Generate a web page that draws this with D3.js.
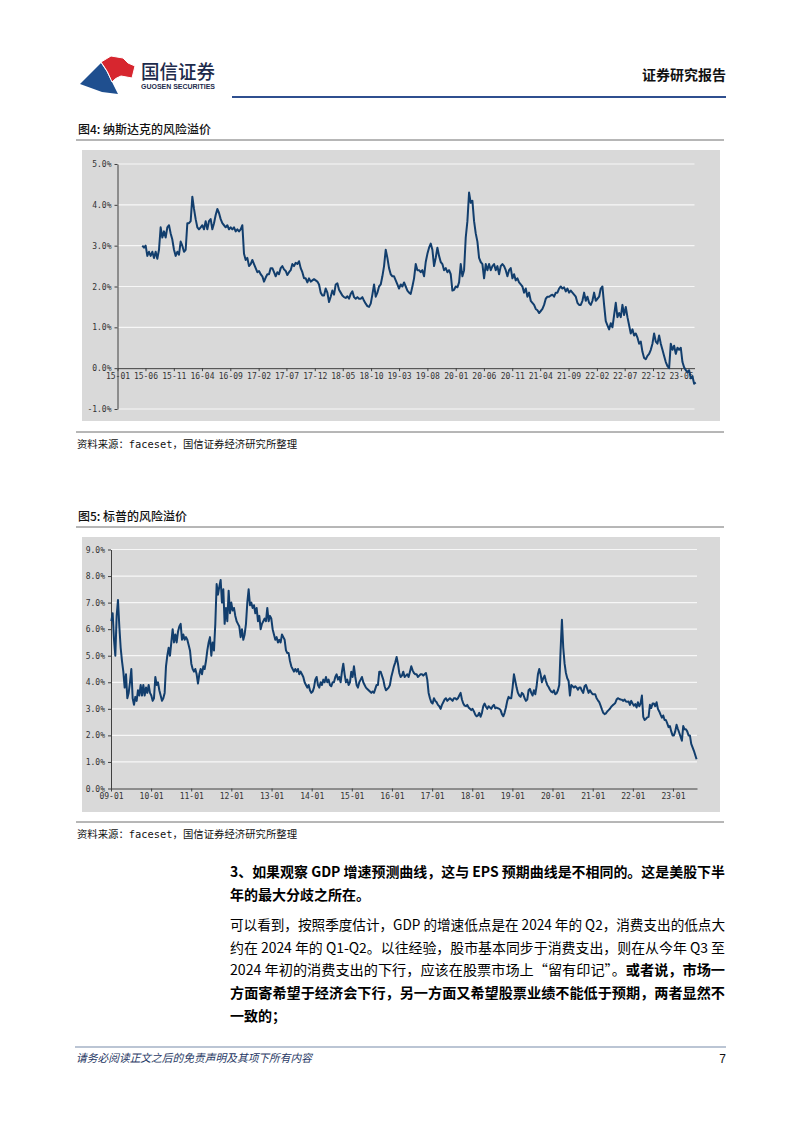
<!DOCTYPE html>
<html><head><meta charset="utf-8">
<script src="https://cdn.jsdelivr.net/npm/d3@7"></script>
<style>html,body{margin:0;padding:0;background:#fff}svg{display:block}</style>
</head><body>
<svg id="page" width="802" height="1133"></svg>
<script>
// ---------- DATA ----------
// 图4 纳斯达克的风险溢价 (%), one reading every 9 days from 2015-05-15
const nasdaqStart = "2015-05-15";
const nasdaqStepDays = 9;
const nasdaqValues = [
3.00,2.95,3.00,2.75,2.85,2.75,2.85,2.70,2.85,2.68,
2.90,3.45,3.20,3.35,3.20,3.45,3.50,3.30,3.15,2.90,
2.75,2.85,2.78,3.10,3.00,2.85,2.90,3.55,3.55,3.60,
4.20,3.90,3.65,3.45,3.40,3.45,3.50,3.40,3.60,3.40,
3.60,3.65,3.40,3.55,3.75,3.90,3.80,3.65,3.55,3.50,
3.45,3.50,3.40,3.45,3.40,3.45,3.35,3.40,3.35,3.40,
3.50,2.80,2.65,2.70,2.50,2.55,2.65,2.55,2.45,2.35,
2.38,2.30,2.25,2.12,2.22,2.30,2.30,2.45,2.45,2.35,
2.25,2.35,2.30,2.45,2.50,2.42,2.38,2.28,2.35,2.40,
2.55,2.50,2.58,2.55,2.62,2.45,2.35,2.20,2.20,2.10,
2.20,2.12,2.15,2.18,2.15,2.12,2.05,1.85,1.78,1.78,
1.95,1.85,1.62,1.75,1.90,1.80,2.05,2.08,1.92,1.85,
1.78,1.74,1.72,1.76,1.70,1.82,1.88,1.74,1.70,1.74,
1.70,1.70,1.74,1.65,1.58,1.52,1.50,1.58,1.80,2.05,
1.75,1.85,2.00,
2.05,2.25,2.50,2.90,2.70,2.45,2.30,2.25,2.25,2.15,
2.05,1.95,2.05,2.00,2.10,2.00,1.90,1.85,1.82,2.00,
2.20,2.55,2.40,2.40,2.35,2.40,2.25,2.60,2.80,2.95,
3.05,2.90,2.50,2.70,2.95,2.75,2.60,2.55,2.40,2.45,
2.35,2.40,2.30,1.90,1.92,2.00,1.98,2.10,2.55,2.25,
2.40,3.20,3.60,4.30,4.05,4.10,3.60,3.30,3.10,2.70,
2.60,2.55,2.20,2.55,2.40,2.55,2.40,2.50,2.55,2.40,
2.50,2.30,2.50,2.55,2.50,2.40,2.25,2.40,2.45,2.20,
2.30,2.15,2.20,2.10,2.05,2.00,1.85,1.95,1.75,1.85,
1.65,1.60,1.55,1.45,1.42,1.35,1.40,1.45,1.55,1.70,
1.75,1.75,1.78,1.80,1.75,1.85,1.85,1.95,2.00,1.95,
1.98,1.88,1.95,1.85,1.90,1.85,1.80,1.75,1.60,1.55,
1.55,1.65,1.85,1.65,1.75,1.60,1.55,1.65,1.85,1.65,
1.70,1.75,1.95,2.00,1.55,1.15,1.05,0.95,1.10,1.00,
1.30,1.60,1.25,1.35,1.25,1.55,1.30,1.50,1.25,1.05,
0.85,0.95,0.80,0.85,0.75,0.60,0.65,0.40,0.25,0.22,
0.30,0.35,0.45,0.60,0.85,0.65,0.60,0.80,0.60,0.45,
0.30,0.15,0.05,0.00,0.60,0.45,0.55,0.35,0.50,0.45,
0.50,0.15,0.02,-0.05,-0.10,-0.05,-0.25,-0.20,-0.38,-0.35
];
const nasdaqXTicks = ["15-01","15-06","15-11","16-04","16-09","17-02","17-07","17-12","18-05","18-10",
  "19-03","19-08","20-01","20-06","20-11","21-04","21-09","22-02","22-07","22-12","23-05"];
const nasdaqYTicks = [-1,0,1,2,3,4,5];
const nasdaqXEnd = "2023-07-13";

// 图5 标普的风险溢价 (%), one reading every 12.13 days from 2009-01-04
const spStart = "2009-01-04";
const spStepDays = 12.13;
const spValues = [
6.3,6.6,5.6,5.0,6.5,7.1,6.1,5.3,4.8,4.4,
3.8,4.3,3.4,3.6,4.0,4.5,3.4,3.15,3.45,3.3,
3.7,3.5,3.9,3.5,3.9,3.5,3.8,3.6,3.9,3.6,
3.5,3.3,3.4,4.2,3.9,4.0,3.7,3.5,3.3,3.4,
3.6,4.6,5.0,5.3,5.0,5.5,6.0,5.5,5.8,5.5,
5.9,6.1,6.2,5.6,5.8,5.6,5.7,5.6,5.4,5.2,
4.7,4.5,4.4,4.5,4.3,3.95,4.3,4.5,4.3,4.6,
4.5,4.8,5.2,5.5,5.7,5.0,5.5,5.2,6.2,7.7,
7.3,7.6,7.85,7.0,7.5,6.2,6.8,6.3,7.45,6.6,
7.0,6.7,6.8,6.5,6.3,6.2,6.1,5.7,6.0,5.6,
5.8,6.2,7.0,7.5,6.9,7.0,6.8,6.9,6.6,6.8,
6.3,6.5,6.0,6.2,6.3,6.4,6.3,6.8,6.3,6.5,
6.4,6.0,5.8,5.6,5.7,5.5,5.6,5.5,5.8,5.7,
5.6,5.2,5.1,5.1,4.8,4.6,4.5,4.4,4.5,4.4,
4.5,4.3,4.4,4.3,4.2,4.0,3.9,3.8,3.9,3.7,
3.6,3.65,3.8,4.1,4.2,3.9,3.8,4.0,3.9,4.1,
4.0,4.2,4.0,4.1,3.9,3.85,4.0,4.0,4.2,4.3,
4.1,4.2,4.0,4.4,4.7,4.3,4.0,4.1,3.9,4.0,
4.4,4.2,4.6,4.2,3.9,3.8,4.0,4.1,4.2,4.0,
3.9,3.8,3.75,3.7,3.65,3.6,3.65,3.6,3.75,3.9,
3.9,4.4,
4.4,4.25,4.1,3.85,3.7,3.75,3.8,3.9,4.2,4.4,
4.6,4.75,4.95,4.7,4.35,4.2,4.25,4.4,4.2,4.25,
4.3,4.2,4.4,4.6,4.45,4.35,4.3,4.3,4.2,4.25,
4.3,4.3,4.25,4.3,4.35,4.1,3.6,3.4,3.25,3.2,
3.4,3.3,3.25,3.15,3.1,3.0,3.15,3.25,3.35,3.4,
3.3,3.35,3.4,3.35,3.3,3.4,3.4,3.35,3.4,3.5,
3.6,3.35,3.2,3.12,3.1,3.15,3.05,3.0,2.95,3.0,
2.9,2.78,2.72,2.75,2.85,2.7,2.85,3.1,3.2,3.08,
3.0,3.1,3.05,3.0,3.1,3.15,3.02,3.05,3.02,3.0,
2.95,2.8,2.72,2.85,3.05,3.3,3.45,3.4,3.4,3.8,
4.3,4.05,3.8,3.6,3.5,3.45,3.6,3.55,3.4,3.3,
3.35,3.7,3.75,3.6,3.5,3.7,3.55,3.85,4.3,4.5,
4.3,4.0,4.15,4.25,4.05,3.9,3.82,3.72,3.65,3.62,
3.7,3.55,3.58,3.7,3.9,5.2,6.35,5.3,4.7,4.35,
4.15,4.05,3.5,3.9,3.85,3.8,3.85,3.8,3.72,3.8,
3.8,3.68,3.6,3.85,3.9,3.75,3.6,3.7,3.62,3.55,
3.55,3.55,3.4,3.32,3.25,3.12,2.98,2.85,2.8,2.83,
2.9,2.95,3.0,3.08,3.13,3.17,3.22,3.35,3.4,3.37,
3.35,3.34,3.3,3.35,3.28,3.27,3.28,3.15,3.3,3.2,
3.12,3.18,3.05,3.25,3.1,3.2,3.5,2.7,2.58,2.62,
2.68,2.7,3.15,3.03,3.2,3.2,3.1,3.25,3.0,2.9,
2.78,2.67,2.75,2.58,2.58,2.45,2.31,2.35,2.15,2.0,
2.0,2.15,2.4,2.24,2.1,1.95,1.8,2.35,2.23,2.23,
2.15,2.0,2.0,1.68,1.55,1.42,1.26,1.1
];
const spXTicks = ["09-01","10-01","11-01","12-01","13-01","14-01","15-01","16-01","17-01","18-01",
  "19-01","20-01","21-01","22-01","23-01"];
const spYTicks = [0,1,2,3,4,5,6,7,8,9];
const spXStart = "2009-01-01";
const spXEnd = "2023-08-08";

// ---------- HELPERS ----------
const svg = d3.select("#page");
const CJK = '"Noto Sans CJK SC","Noto Sans",sans-serif';
const MONO = '"DejaVu Sans Mono",monospace';
const parseDay = d3.timeParse("%Y-%m-%d");
const parseTick = s => { const [yy, mm] = s.split("-").map(Number); return new Date(2000 + yy, mm - 1, 1); };
const series = (start, step, vals) => {
  const t0 = parseDay(start).getTime();
  return vals.map((v, i) => ({ date: new Date(t0 + i * step * 86400000), value: v }));
};

// ---------- HEADER ----------
const logo = svg.append("g");
logo.append("path").attr("d","M80,84 L101,63 Q107,71 111,80 L118,94 L102,92 Z").attr("fill","#1f4f8f");
logo.append("path").attr("d","M101,62 L111,56 L123,58 L128,63 L135,66 L132,78 L121,76 Q115,78 112,82 Q108,71 101,62 Z")
  .attr("fill","#d7262f").attr("stroke","#fff").attr("stroke-width",1);
svg.append("text").attr("x",141).attr("y",79).attr("font-family",CJK).attr("font-size",19).attr("font-weight",500)
  .attr("fill","#1d2b4c").attr("textLength",74).attr("lengthAdjust","spacingAndGlyphs").text("国信证券");
svg.append("text").attr("x",141).attr("y",89).attr("font-family",'"Liberation Sans",Arial,sans-serif').attr("font-size",6.5)
  .attr("font-weight",700).attr("fill","#1d2b4c").attr("textLength",74).attr("lengthAdjust","spacingAndGlyphs").text("GUOSEN SECURITIES");
svg.append("text").attr("x",726).attr("y",80).attr("text-anchor","end").attr("font-family",CJK).attr("font-size",14)
  .attr("font-weight",700).attr("fill","#111").text("证券研究报告");
svg.append("line").attr("x1",232).attr("x2",726).attr("y1",97).attr("y2",97).attr("stroke","#2f4f8f").attr("stroke-width",2);

// ---------- CHART ----------
function drawChart(o) {
  svg.append("text").attr("x",78).attr("y",o.titleY).attr("font-family",CJK).attr("font-size",12).attr("font-weight",500)
    .attr("fill","#111").text(o.title);
  svg.append("line").attr("x1",76).attr("x2",724).attr("y1",o.titleLineY).attr("y2",o.titleLineY).attr("stroke","#6f6f6f").attr("stroke-width",1);
  svg.append("rect").attr("x",o.box[0]).attr("y",o.box[1]).attr("width",o.box[2]).attr("height",o.box[3]).attr("fill","#d9d9d9");

  const x = d3.scaleTime().domain(o.xDomain).range(o.xRange);
  const y = d3.scaleLinear().domain(o.yDomain).range(o.yRange);
  const g = svg.append("g");

  g.selectAll("line.grid").data(o.yTicks.filter(v => v !== 0)).join("line")
    .attr("x1", o.xRange[0]).attr("x2", o.xRange[1]).attr("y1", d => y(d)).attr("y2", d => y(d))
    .attr("stroke", "#f7f7f7").attr("stroke-width", 1.2);

  const ya = g.append("g").attr("transform", `translate(${o.xRange[0]},0)`)
    .call(d3.axisLeft(y).tickValues(o.yTicks).tickFormat(d => d.toFixed(1) + "%").tickSizeInner(3).tickSizeOuter(0).tickPadding(3));
  const xa = g.append("g").attr("transform", `translate(0,${y(0)})`)
    .call(d3.axisBottom(x).tickValues(o.xTicks.map(parseTick)).tickFormat(d3.timeFormat("%y-%m")).tickSizeInner(3).tickSizeOuter(0).tickPadding(2));
  [ya, xa].forEach(a => {
    a.selectAll("path.domain").attr("stroke", "#404040").attr("stroke-width", 1);
    a.selectAll(".tick line").attr("stroke", "#404040");
    a.selectAll("text").attr("font-family", MONO).attr("font-size", 8).attr("fill", "#333");
  });

  const line = d3.line().x(d => x(d.date)).y(d => y(d.value));
  g.append("path").datum(o.data).attr("d", line).attr("fill", "none")
    .attr("stroke", "#123e6d").attr("stroke-width", 2).attr("stroke-linejoin", "round");

  svg.append("line").attr("x1",76).attr("x2",724).attr("y1",o.srcLineY).attr("y2",o.srcLineY).attr("stroke","#6f6f6f").attr("stroke-width",1);
  const st = svg.append("text").attr("x",77).attr("y",o.srcY).attr("font-family",CJK).attr("font-size",10.5).attr("fill","#111")
    .attr("textLength",220).attr("lengthAdjust","spacingAndGlyphs");
  st.append("tspan").text("资料来源：");
  st.append("tspan").attr("font-family",MONO).text("faceset");
  st.append("tspan").text("，国信证券经济研究所整理");
}

drawChart({
  title: "图4: 纳斯达克的风险溢价", titleY: 134, titleLineY: 140,
  box: [82, 150, 638, 271],
  xDomain: [parseTick(nasdaqXTicks[0]), parseDay(nasdaqXEnd)], xRange: [117.5, 694.5],
  yDomain: [-1, 5], yRange: [409, 164],
  yTicks: nasdaqYTicks, xTicks: nasdaqXTicks,
  data: series(nasdaqStart, nasdaqStepDays, nasdaqValues),
  srcLineY: 432, srcY: 448
});

drawChart({
  title: "图5: 标普的风险溢价", titleY: 521, titleLineY: 527,
  box: [82, 537, 638, 275],
  xDomain: [parseDay(spXStart), parseDay(spXEnd)], xRange: [111, 697],
  yDomain: [0, 9], yRange: [788.5, 549.5],
  yTicks: spYTicks, xTicks: spXTicks,
  data: series(spStart, spStepDays, spValues),
  srcLineY: 822, srcY: 838
});

// ---------- BODY TEXT ----------
const paraLines = [
  { y: 877, j: true,  parts: [["3、如果观察 GDP 增速预测曲线，这与 EPS 预期曲线是不相同的。这是美股下半", true]] },
  { y: 900, j: false, parts: [["年的最大分歧之所在。", true]] },
  { y: 930, j: true,  parts: [["可以看到，按照季度估计，GDP 的增速低点是在 2024 年的 Q2，消费支出的低点大", false]] },
  { y: 953, j: true,  parts: [["约在 2024 年的 Q1-Q2。以往经验，股市基本同步于消费支出，则在从今年 Q3 至", false]] },
  { y: 975, j: true,  parts: [["2024 年初的消费支出的下行，应该在股票市场上“留有印记”。", false], ["或者说，市场一", true]] },
  { y: 998, j: true,  parts: [["方面寄希望于经济会下行，另一方面又希望股票业绩不能低于预期，两者显然不", true]] },
  { y: 1021, j: false, parts: [["一致的；", true]] }
];
paraLines.forEach(l => {
  const t = svg.append("text").attr("x", 230).attr("y", l.y).attr("font-family", CJK).attr("font-size", 14).attr("fill", "#000");
  if (l.j) t.attr("textLength", 495).attr("lengthAdjust", "spacingAndGlyphs");
  l.parts.forEach(p => t.append("tspan").attr("font-weight", p[1] ? 700 : 400).text(p[0]));
});

// ---------- FOOTER ----------
svg.append("line").attr("x1",75).attr("x2",726).attr("y1",1047).attr("y2",1047).attr("stroke","#a4b2c6").attr("stroke-width",1.5);
svg.append("text").attr("x",76).attr("y",1062).attr("font-family",CJK).attr("font-size",11).attr("font-style","italic")
  .attr("fill","#1f3864").attr("textLength",236).attr("lengthAdjust","spacingAndGlyphs").text("请务必阅读正文之后的免责声明及其项下所有内容");
svg.append("text").attr("x",726).attr("y",1063).attr("text-anchor","end").attr("font-family",'"Liberation Sans",Arial,sans-serif')
  .attr("font-size",12).attr("fill","#111").text("7");
</script>
</body></html>
